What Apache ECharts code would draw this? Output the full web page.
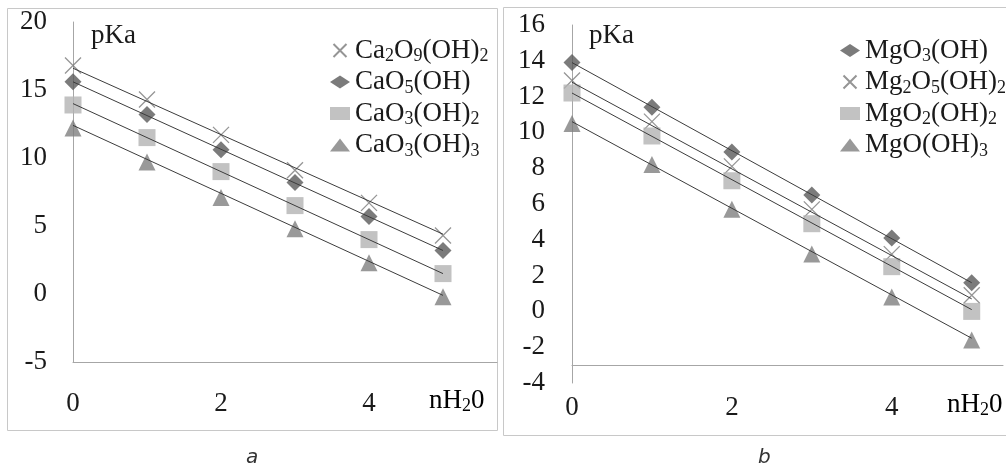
<!DOCTYPE html>
<html>
<head>
<meta charset="utf-8">
<script src="https://cdn.jsdelivr.net/npm/echarts@6/dist/echarts.min.js"></script>
<style>
  html, body { margin: 0; padding: 0; background: #fff; }
  #chart { width: 1006px; height: 470px; }
</style>
</head>
<body>
<div id="chart"></div>
<script>
// nH2O steps (x)
var nH2O = [0, 1, 2, 3, 4, 5];

// panel a - Ca
var caNames = ['Ca2O9(OH)2', 'CaO5(OH)', 'CaO3(OH)2', 'CaO3(OH)3'];
var ca2o9oh2 = [16.8, 14.3, 11.7, 9.1, 6.7, 4.3];
var cao5oh = [15.6, 13.2, 10.6, 8.2, 5.7, 3.2];
var cao3oh2 = [13.9, 11.5, 9.0, 6.5, 4.0, 1.5];
var cao3oh3 = [12.2, 9.7, 7.1, 4.8, 2.3, -0.2];
// trend lines, value at nH2O = 0 and 5
var caTrendX = [0, 5];
var caTrend = [[16.6, 4.4], [15.6, 3.2], [14.0, 1.5], [12.4, -0.1]];

// panel b - Mg
var mgNames = ['MgO3(OH)', 'Mg2O5(OH)2', 'MgO2(OH)2', 'MgO(OH)3'];
var mgo3oh = [13.9, 11.4, 8.9, 6.5, 4.1, 1.6];
var mg2o5oh2 = [12.9, 10.6, 8.1, 5.7, 3.2, 0.9];
var mgo2oh2 = [12.2, 9.8, 7.3, 4.9, 2.5, 0.0];
var mgooh3 = [10.5, 8.2, 5.7, 3.2, 0.8, -1.6];
var mgTrendX = [0, 5];
var mgTrend = [[13.9, 1.6], [12.8, 0.7], [12.2, 0.1], [10.6, -1.5]];

var yTicksA = [-5, 0, 5, 10, 15, 20];
var yTicksB = [-4, -2, 0, 2, 4, 6, 8, 10, 12, 14, 16];
var xTicks = [0, 2, 4];

var FONT = '"Liberation Serif", "Times New Roman", Times, "DejaVu Serif", serif';
var TXT = '#1a1a1a';

var X_PATH = 'path://M0,0L10,10M10,0L0,10';
var styles = {
  cross:   { symbol: X_PATH, size: 16, itemStyle: { color: 'rgba(0,0,0,0)', borderColor: '#7a7a7a', borderWidth: 1.3 } },
  diamond: { symbol: 'diamond', size: 17, itemStyle: { color: '#5a5a5a' } },
  square:  { symbol: 'rect', size: 17, itemStyle: { color: '#b3b3b3' } },
  tri:     { symbol: 'triangle', size: 17, itemStyle: { color: '#7f7f7f' } }
};

// chemistry formula -> rich text with subscripts
function chem(s) {
  return s.replace(/(\d+)|(\D+)/g, function (m, d, t) {
    return d ? '{s|' + d + '}' : '{n|' + t + '}';
  });
}

var rich = {
  n: { fontFamily: FONT, fontSize: 27, lineHeight: 30, color: TXT },
  s: { fontFamily: FONT, fontSize: 18, lineHeight: 17, color: TXT, verticalAlign: 'bottom' }
};

function pts(ys) {
  return nH2O.map(function (x, i) { return [x, ys[i]]; });
}

function scatter(name, ys, st, idx) {
  return {
    name: name, type: 'scatter', xAxisIndex: idx, yAxisIndex: idx,
    symbol: st.symbol, symbolSize: st.size, itemStyle: st.itemStyle,
    data: pts(ys), z: 2, silent: true
  };
}

function trend(tx, ty, idx) {
  return {
    name: 'trend' + idx, type: 'line', xAxisIndex: idx, yAxisIndex: idx,
    showSymbol: false, symbol: 'none',
    lineStyle: { color: '#3c3c3c', width: 1 },
    data: tx.map(function (x, i) { return [x, ty[i]]; }),
    z: 3, silent: true
  };
}

var caData = [ca2o9oh2, cao5oh, cao3oh2, cao3oh3];
var caSt = [styles.cross, styles.diamond, styles.square, styles.tri];
var mgData = [mgo3oh, mg2o5oh2, mgo2oh2, mgooh3];
var mgSt = [styles.diamond, styles.cross, styles.square, styles.tri];

var series = [];
caNames.forEach(function (n, i) { series.push(scatter(n, caData[i], caSt[i], 0)); });
caTrend.forEach(function (t) { series.push(trend(caTrendX, t, 0)); });
mgNames.forEach(function (n, i) { series.push(scatter(n, mgData[i], mgSt[i], 1)); });
mgTrend.forEach(function (t) { series.push(trend(mgTrendX, t, 1)); });

var axisLineStyle = { color: '#a6a6a6', width: 1 };

function label(margin, ticks) {
  return {
    margin: margin, fontFamily: FONT, fontSize: 27, color: TXT,
    formatter: function (v) { return ticks.indexOf(v) >= 0 ? String(v) : ''; }
  };
}

var option = {
  animation: false,
  backgroundColor: '#fff',
  grid: [
    { left: 73, top: 22, width: 424, height: 340 },
    { left: 572, top: 25, width: 434, height: 358 }
  ],
  xAxis: [
    {
      gridIndex: 0, type: 'value', min: 0, max: 424 / 74, interval: 2,
      axisLine: { show: true, onZero: false, lineStyle: axisLineStyle },
      axisTick: { show: false }, splitLine: { show: false },
      axisLabel: label(28, xTicks)
    },
    {
      gridIndex: 1, type: 'value', min: 0, max: 434 / 80.5, interval: 2, offset: -18,
      axisLine: { show: true, onZero: false, lineStyle: axisLineStyle },
      axisTick: { show: false }, splitLine: { show: false },
      axisLabel: label(29, xTicks)
    }
  ],
  yAxis: [
    {
      gridIndex: 0, type: 'value', min: -5, max: 20, interval: 5,
      axisLine: { show: true, onZero: false, lineStyle: axisLineStyle },
      axisTick: { show: false }, splitLine: { show: false },
      axisLabel: label(26, yTicksA)
    },
    {
      gridIndex: 1, type: 'value', min: -4, max: 16, interval: 2,
      axisLine: { show: true, onZero: false, lineStyle: axisLineStyle },
      axisTick: { show: false }, splitLine: { show: false },
      axisLabel: label(27, yTicksB)
    }
  ],
  legend: [
    {
      data: caNames, orient: 'vertical', left: 325, top: 32,
      itemWidth: 20, itemHeight: 13, itemGap: 3, selectedMode: false,
      formatter: chem, textStyle: { rich: rich }
    },
    {
      data: mgNames, orient: 'vertical', left: 835, top: 32,
      itemWidth: 20, itemHeight: 13, itemGap: 3, selectedMode: false,
      formatter: chem, textStyle: { rich: rich }
    }
  ],
  graphic: [
    { type: 'rect', shape: { x: 7.5, y: 8.5, width: 490, height: 422 }, style: { fill: 'none', stroke: '#c8c8c8', lineWidth: 1 }, silent: true, z: -1 },
    { type: 'rect', shape: { x: 503.5, y: 7.5, width: 510, height: 428 }, style: { fill: 'none', stroke: '#c8c8c8', lineWidth: 1 }, silent: true, z: -1 },
    { type: 'text', left: 91, top: 22, style: { text: 'pKa', font: '27px ' + FONT, fill: TXT } },
    { type: 'text', left: 589, top: 22, style: { text: 'pKa', font: '27px ' + FONT, fill: TXT } },
    { type: 'text', left: 429, top: 387, style: { text: chem('nH2') + '{n|0}', rich: rich } },
    { type: 'text', left: 947, top: 391, style: { text: chem('nH2') + '{n|0}', rich: rich } },
    { type: 'text', left: 246, top: 448, style: { text: 'a', font: 'italic 20px "DejaVu Sans"', fill: '#333' } },
    { type: 'text', left: 758, top: 448, style: { text: 'b', font: 'italic 20px "DejaVu Sans"', fill: '#333' } }
  ],
  series: series
};

var myChart = echarts.init(document.getElementById('chart'));
myChart.setOption(option);
</script>
</body>
</html>
